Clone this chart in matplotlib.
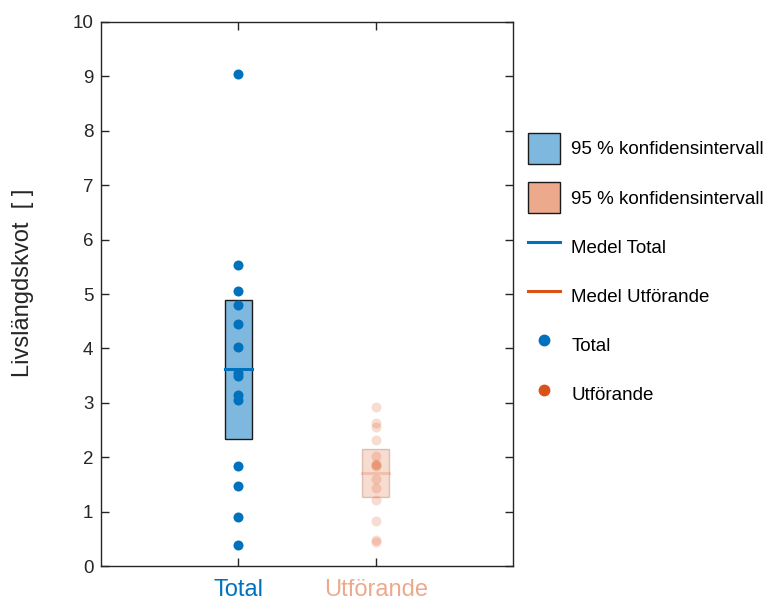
import numpy as np
import matplotlib.pyplot as plt
from matplotlib.patches import Rectangle, Patch
from matplotlib.lines import Line2D

plt.rcParams["font.family"] = ["Liberation Sans", "DejaVu Sans"]

# ---- Data ----
groups = ["Total", "Utförande"]
total_vals = [9.05, 5.54, 5.05, 4.79, 4.44, 4.02, 3.54, 3.49, 3.14, 3.06, 1.83, 1.47, 0.90, 0.39]
utf_vals = [2.93, 2.62, 2.56, 2.32, 2.02, 1.87, 1.85, 1.83, 1.60, 1.44, 1.21, 0.83, 0.48, 0.45]
ci_low = [2.34, 1.27]
ci_high = [4.89, 2.16]

blue = "#0072BD"
orange = "#D95319"
blue_face = "#7FB8DE"
orange_face = "#ECA98C"

fig = plt.figure(figsize=(7.65, 6.01), dpi=100)
ax = fig.add_axes([0.132, 0.0582, 0.5386, 0.9052])

half_w = 0.1
series = [total_vals, utf_vals]
styles = [
    dict(dot=blue, face=blue_face, edge="#1a1a1a", alpha=1.0, patch_alpha=1.0),
    dict(dot=orange, face=orange_face, edge="#B07860", alpha=0.2, patch_alpha=0.4),
]

# ---- Confidence boxes, points and means ----
for i, (vals, st) in enumerate(zip(series, styles)):
    x = i + 1
    ax.add_patch(Rectangle((x - half_w, ci_low[i]), 2 * half_w, ci_high[i] - ci_low[i],
                           facecolor=st["face"], edgecolor=st["edge"], linewidth=1.0,
                           alpha=st["patch_alpha"], zorder=1))
    ax.scatter(np.full(len(vals), x), vals, s=52, color=st["dot"], alpha=st["alpha"],
               linewidths=0, zorder=2)
    ax.plot([x - half_w, x + half_w], [np.mean(vals)] * 2, color=st["dot"], lw=2.2,
            alpha=st["alpha"] if i else 1.0, zorder=3)

# ---- Axes styling ----
ax.set_xlim(0, 3)
ax.set_ylim(0, 10)
ax.set_yticks(range(0, 11))
ax.set_xticks([1, 2])
ax.set_xticklabels(groups, fontsize=17)
ax.tick_params(axis="y", labelsize=13.5, pad=5.5)
ax.tick_params(axis="x", pad=9)
ax.tick_params(direction="in", top=True, right=True, length=6, width=1, colors="#262626",
               which="both")
for lbl, c in zip(ax.get_xticklabels(), [blue, orange_face]):
    lbl.set_color(c)
for sp in ax.spines.values():
    sp.set_color("#262626")
    sp.set_linewidth(1.0)
ax.set_ylabel("Livslängdskvot  [ ]", fontsize=17, color="#262626")
ax.yaxis.set_label_coords(-0.162, 0.521)

# ---- Legend ----
handles = [
    Patch(facecolor=blue_face, edgecolor="#1a1a1a", linewidth=1.0),
    Patch(facecolor=orange_face, edgecolor="#1a1a1a", linewidth=1.0),
    Line2D([], [], color=blue, lw=2.2),
    Line2D([], [], color=orange, lw=2.2),
    Line2D([], [], marker="o", linestyle="none", color=blue, markersize=7.5),
    Line2D([], [], marker="o", linestyle="none", color=orange, markersize=7.5),
]
labels = ["95 % konfidensintervall", "95 % konfidensintervall", "Medel Total",
          "Medel Utförande", "Total", "Utförande"]
fig.legend(handles, labels, loc="upper left", bbox_to_anchor=(528 / 765, 1 - 133 / 601),
           frameon=False, fontsize=13.5, handlelength=1.7, handleheight=2.18,
           labelspacing=0.96, handletextpad=0.6, borderpad=0, borderaxespad=0)

fig.savefig("out.png", dpi=100)
